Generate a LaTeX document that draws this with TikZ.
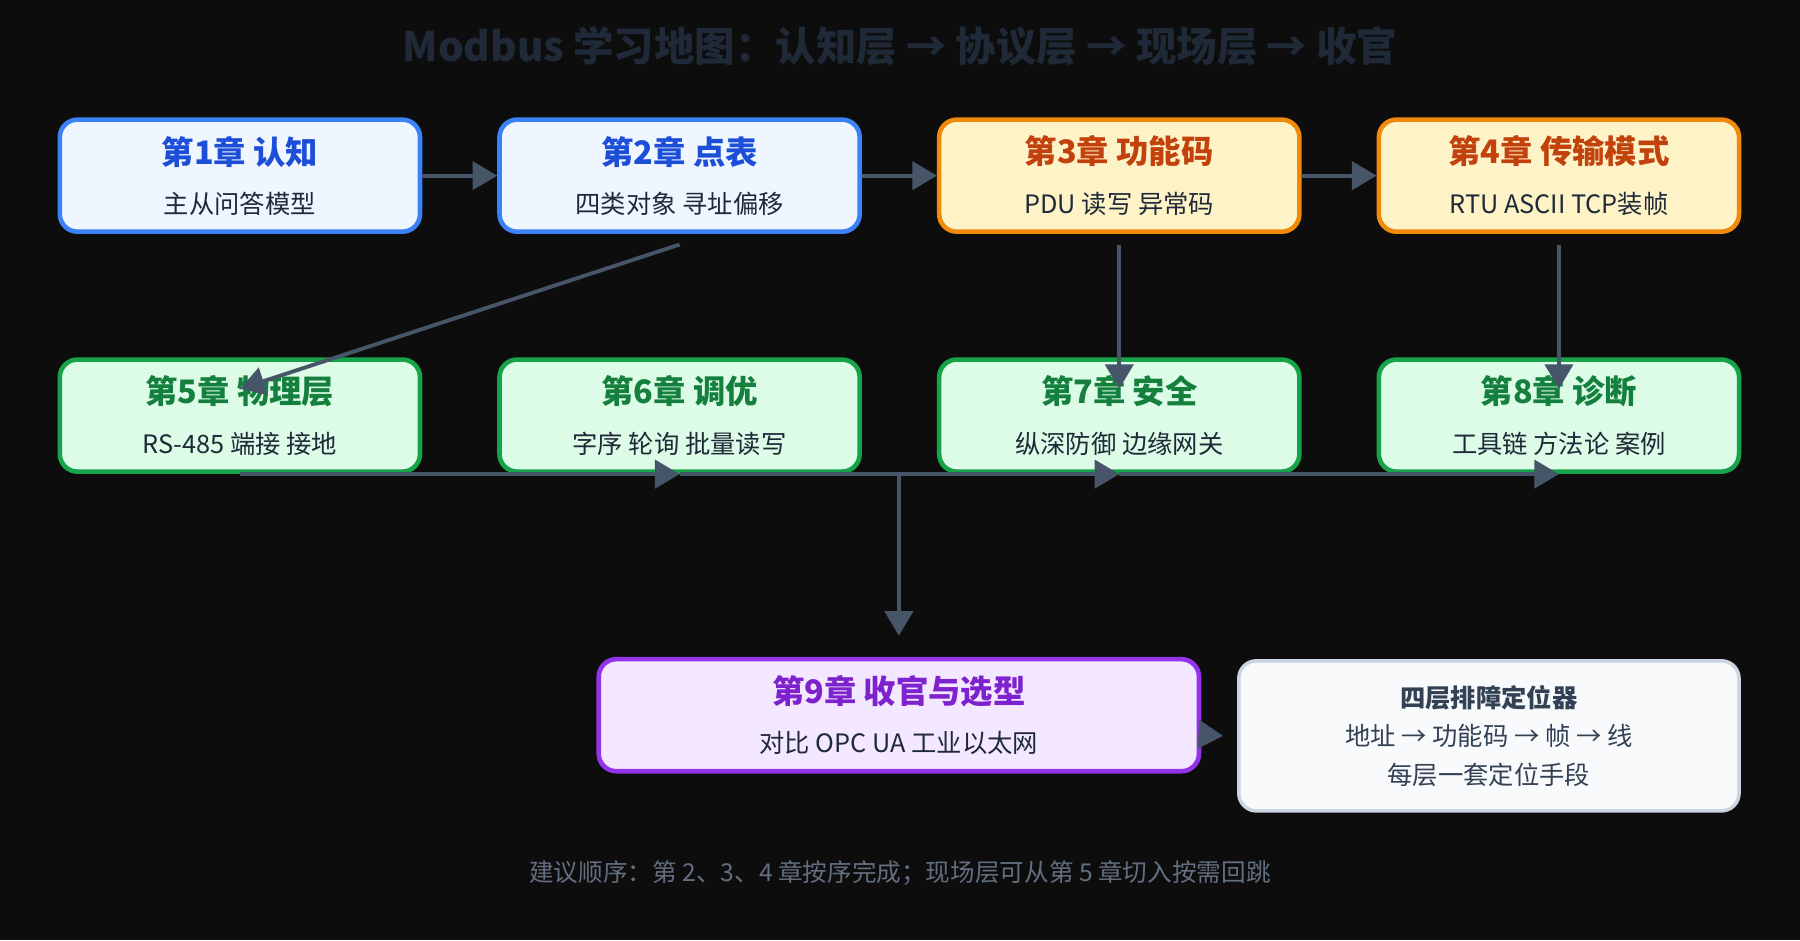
\documentclass[tikz,border=0pt]{standalone}
\usepackage{fontspec}
\setmainfont{Noto Sans CJK SC}
\usetikzlibrary{arrows.meta,positioning,decorations.markings}
\definecolor{bg}{HTML}{0D0D0D}
\definecolor{link}{HTML}{475569}
\definecolor{blueF}{HTML}{EFF6FF}\definecolor{blueD}{HTML}{3B82F6}\definecolor{blueT}{HTML}{1D4ED8}
\definecolor{orgF}{HTML}{FEF3C7}\definecolor{orgD}{HTML}{F08A0C}\definecolor{orgT}{HTML}{C2410C}
\definecolor{grnF}{HTML}{DCFCE7}\definecolor{grnD}{HTML}{16A34A}\definecolor{grnT}{HTML}{15803D}
\definecolor{purF}{HTML}{F3E8FF}\definecolor{purD}{HTML}{9333EA}\definecolor{purT}{HTML}{7E22CE}
\definecolor{noteF}{HTML}{F8FAFC}\definecolor{noteD}{HTML}{CBD5E1}\definecolor{noteT}{HTML}{334155}
\definecolor{sub}{HTML}{1F2937}

\begin{document}
\begin{tikzpicture}[x=0.01148cm,y=-0.01148cm,
    chap/.style={draw,line width=1.3pt,rounded corners=5pt,minimum width=3.6cm,minimum height=1.12cm,align=center,inner sep=0pt},
    blue/.style={chap,fill=blueF,draw=blueD},
    org/.style={chap,fill=orgF,draw=orgD},
    grn/.style={chap,fill=grnF,draw=grnD},
    flow/.style={draw=link,line width=1.1pt,-{Triangle[length=7pt,width=8pt]}}]
    % background
    \fill[bg] (0,0) rectangle (1568,819);

    % title
    \node[font=\bfseries\fontsize{11.5}{13}\selectfont,text=sub] (title) at (784,40) {Modbus 学习地图：认知层 → 协议层 → 现场层 → 收官};

    % row 1
    \newcommand{\chaptxt}[3]{{\color{#1}\bfseries\fontsize{9.2}{11}\selectfont #2}\\[2pt]{\color{sub}\fontsize{7.2}{9}\selectfont #3}}
    \node[blue] (c1) at (209,153) {\chaptxt{blueT}{第1章 认知}{主从问答模型}};
    \node[blue] (c2) at (592,153) {\chaptxt{blueT}{第2章 点表}{四类对象 寻址偏移}};
    \node[org] (c3) at (975,153) {\chaptxt{orgT}{第3章 功能码}{PDU 读写 异常码}};
    \node[org] (c4) at (1358,153) {\chaptxt{orgT}{第4章 传输模式}{RTU ASCII TCP装帧}};

    % row 2
    \node[grn] (c5) at (209,362) {\chaptxt{grnT}{第5章 物理层}{RS-485 端接 接地}};
    \node[grn] (c6) at (592,362) {\chaptxt{grnT}{第6章 调优}{字序 轮询 批量读写}};
    \node[grn] (c7) at (975,362) {\chaptxt{grnT}{第7章 安全}{纵深防御 边缘网关}};
    \node[grn] (c8) at (1358,362) {\chaptxt{grnT}{第8章 诊断}{工具链 方法论 案例}};

    % closing
    \node[chap,fill=purF,draw=purD,minimum width=6cm] (c9) at (783,623) {\chaptxt{purT}{第9章 收官与选型}{对比 OPC UA 工业以太网}};
    \node[draw=noteD,fill=noteF,line width=1pt,rounded corners=5pt,minimum width=5cm,minimum height=1.5cm,align=center,text=noteT,font=\fontsize{7.2}{11}\selectfont] (note) at (1297,641)
        {{\bfseries 四层排障定位器}\\地址 → 功能码 → 帧 → 线\\每层一套定位手段};

    % links
    \draw[flow] (c1) -- (c2);
    \draw[flow] (c2) -- (c3);
    \draw[flow] (c3) -- (c4);
    \draw[flow] ([yshift=-3pt]c2.south) -- ([yshift=-9pt]c5.north);
    \draw[flow] ([yshift=-3pt]c3.south) -- ([yshift=-9pt]c7.north);
    \draw[flow] ([yshift=-3pt]c4.south) -- ([yshift=-9pt]c8.north);

    % bus under row 2
    \coordinate (b5) at (209,413);
    \coordinate (b6) at (592,413);
    \coordinate (b7) at (975,413);
    \coordinate (b8) at (1358,413);
    \coordinate (hub) at (783,413);
    \draw[flow] (b5) -- (b6);
    \draw[flow] (b6) -- (b7);
    \draw[flow] (b7) -- (b8);
    \draw[flow] (hub) -- ([yshift=6pt]c9.north);
    \draw[flow] (c9) -- ([xshift=-4pt]note.west);

    % footer
    \node[text=link!85!white,font=\fontsize{7}{9}\selectfont] (foot) at (784,760) {建议顺序：第 2、3、4 章按序完成；现场层可从第 5 章切入按需回跳};
\end{tikzpicture}
\end{document}
